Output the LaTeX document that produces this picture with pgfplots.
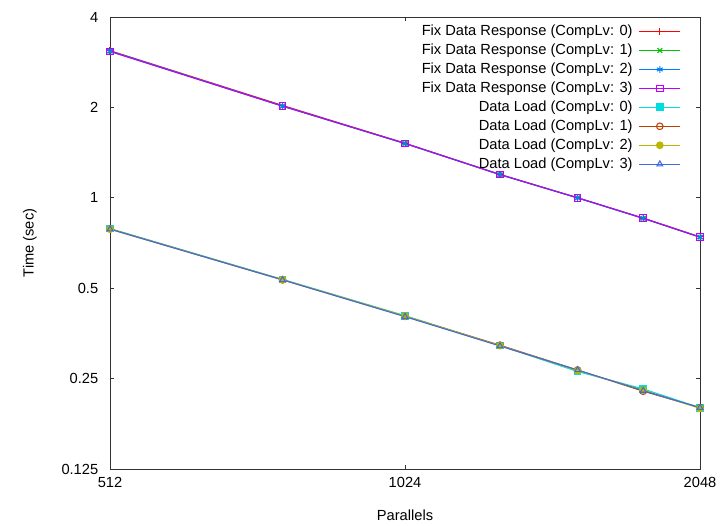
\documentclass[border=0pt]{standalone}
\usepackage{pgfplots}
\pgfplotsset{compat=1.18}
\usepackage{fontspec}
\setmainfont{Liberation Sans}

% gnuplot 4.x default line colours
\definecolor{gpred}{HTML}{FF0000}
\definecolor{gpgreen}{HTML}{00C000}
\definecolor{gpblue}{HTML}{0080FF}
\definecolor{gpmagenta}{HTML}{C000FF}
\definecolor{gpcyan}{HTML}{00DDDD}
\definecolor{gpbrown}{HTML}{C04000}
\definecolor{gpolive}{HTML}{B8B800}
\definecolor{gproyal}{HTML}{4169E1}

\begin{document}
\fontsize{11}{13}\selectfont
\begin{tikzpicture}
\begin{axis}[
    scale only axis,
    width=442.5pt,
    height=339pt,
    xmode=log, ymode=log,
    log basis x=2, log basis y=2,
    xmin=512, xmax=2048,
    ymin=0.125, ymax=4,
    xtick={512,1024,2048},
    xticklabels={512,1024,2048},
    ytick={0.125,0.25,0.5,1,2,4},
    yticklabels={0.125,0.25,0.5,1,2,4},
    minor tick num=0,
    tick align=inside,
    major tick length=3pt,
    axis line style={black!80, line width=0.6pt},
    tick style={black!80, line width=0.6pt},
    xticklabel style={yshift=-2pt},
    yticklabel style={xshift=-5pt},
    xlabel={Parallels},
    ylabel={Time (sec)},
    xlabel style={at={(axis description cs:0.5,-0.102)}, anchor=center},
    ylabel style={at={(axis description cs:-0.136,0.5)}, anchor=center},
    legend plot pos=right,
    legend cell align=right,
    legend image code/.code={
        \draw[mark repeat=2,mark phase=2]
            plot coordinates {(0pt,0pt)(15.5pt,0pt)(31pt,0pt)};},
    legend style={at={(rel axis cs:0.975,0.993)}, anchor=north east,
        draw=none, fill=none, row sep=1.6pt, column sep=3pt,
        nodes={inner sep=1.5pt}},
    every axis plot/.append style={line width=0.8pt, mark size=2.5pt},
]

\addplot[color=gpred, mark=+] coordinates {
    (512,3.09)(768,2.03)(1024,1.52)(1280,1.196)(1536,1.0)(1792,0.856)(2048,0.741)
};
\addlegendentry{Fix Data Response (CompLv: 0)}
\addplot[color=gpgreen, mark=x] coordinates {
    (512,3.08)(768,2.02)(1024,1.517)(1280,1.195)(1536,1.0)(1792,0.855)(2048,0.740)
};
\addlegendentry{Fix Data Response (CompLv: 1)}
\addplot[color=gpblue, mark=asterisk] coordinates {
    (512,3.08)(768,2.02)(1024,1.516)(1280,1.194)(1536,0.999)(1792,0.854)(2048,0.740)
};
\addlegendentry{Fix Data Response (CompLv: 2)}
\addplot[color=gpmagenta, mark=square] coordinates {
    (512,3.07)(768,2.02)(1024,1.517)(1280,1.195)(1536,1.0)(1792,0.855)(2048,0.739)
};
\addlegendentry{Fix Data Response (CompLv: 3)}

\addplot[color=gpcyan, mark=square*] coordinates {
    (512,0.790)(768,0.535)(1024,0.405)(1280,0.322)(1536,0.264)(1792,0.231)(2048,0.200)
};
\addlegendentry{Data Load (CompLv: 0)}
\addplot[color=gpbrown, mark=o] coordinates {
    (512,0.788)(768,0.533)(1024,0.403)(1280,0.323)(1536,0.267)(1792,0.227)(2048,0.200)
};
\addlegendentry{Data Load (CompLv: 1)}
\addplot[color=gpolive, mark=*] coordinates {
    (512,0.787)(768,0.534)(1024,0.404)(1280,0.322)(1536,0.266)(1792,0.229)(2048,0.199)
};
\addlegendentry{Data Load (CompLv: 2)}
\addplot[color=gproyal, mark=triangle] coordinates {
    (512,0.786)(768,0.533)(1024,0.402)(1280,0.321)(1536,0.267)(1792,0.228)(2048,0.200)
};
\addlegendentry{Data Load (CompLv: 3)}
\end{axis}
\path ([shift={(-82.5pt,-41.25pt)}]current axis.south west)
    rectangle ([shift={(18pt,12.75pt)}]current axis.north east);
\end{tikzpicture}
\end{document}
